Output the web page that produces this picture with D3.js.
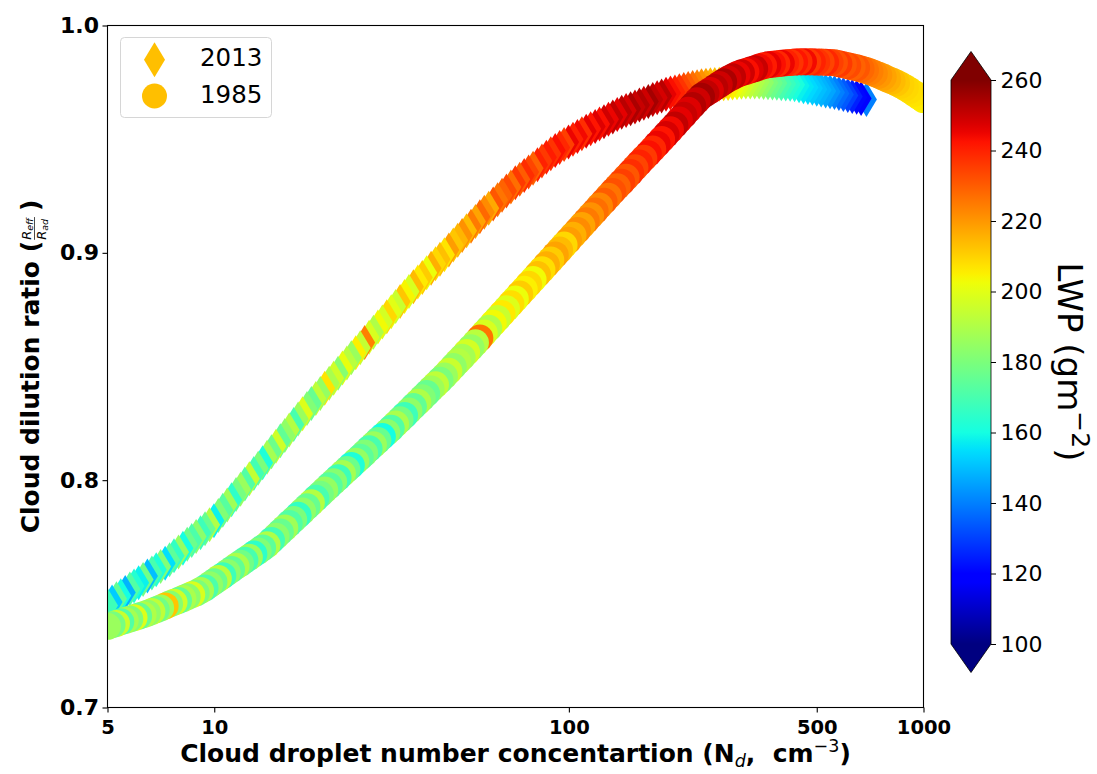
<!DOCTYPE html>
<html>
<head>
<meta charset="utf-8">
<script src="https://cdn.jsdelivr.net/npm/d3@7"></script>
<style>
  body { margin: 0; background: #fff; }
  svg { font-family: "DejaVu Sans", sans-serif; }
</style>
</head>
<body>
<script>
// droplet number concentration (cm-3), dilution ratio and LWP (g m-2)
var nd2013 = [5.00,5.15,5.30,5.45,5.61,5.78,5.94,6.12,6.30,6.48,
  6.67,6.86,7.06,7.27,7.48,7.70,7.93,8.16,8.39,8.64,
  8.89,9.15,9.42,9.70,9.98,10.27,10.57,10.88,11.19,11.52,
  11.86,12.20,12.56,12.93,13.30,13.69,14.09,14.50,14.93,15.36,
  15.81,16.27,16.75,17.24,17.74,18.26,18.79,19.34,19.91,20.49,
  21.09,21.71,22.34,22.99,23.66,24.35,25.06,25.80,26.55,27.33,
  28.12,28.94,29.79,30.66,31.55,32.47,33.42,34.40,35.40,36.44,
  37.50,38.60,39.72,40.88,42.07,43.30,44.57,45.87,47.21,48.59,
  50.00,51.46,52.97,54.52,56.10,57.74,59.43,61.17,62.95,64.79,
  66.68,68.63,70.63,72.69,74.82,77.00,79.25,81.56,83.95,86.40,
  88.92,91.52,94.19,96.94,99.77,102.7,105.7,108.8,111.9,115.2,
  118.6,122.0,125.6,129.3,133.0,136.9,140.9,145.0,149.3,153.6,
  158.1,162.7,167.5,172.4,177.4,182.6,187.9,193.4,199.1,204.9,
  210.9,217.0,223.4,229.9,236.6,243.5,250.6,257.9,265.5,273.2,
  281.2,289.4,297.9,306.6,315.5,324.7,334.2,344.0,354.0,364.3,
  375.0,385.9,397.2,408.8,420.7,433.0,445.7,458.7,472.1,485.9,
  500.0,514.6,529.7,545.2,561.0,577.4,594.3,611.7,629.5,647.9,
  666.8,690.2];
var ratio2013 = [0.7449,0.7464,0.7478,0.7492,0.7506,0.7521,0.7535,0.7549,0.7563,0.7578,
  0.7592,0.7606,0.7620,0.7635,0.7650,0.7667,0.7684,0.7701,0.7718,0.7735,
  0.7752,0.7769,0.7786,0.7804,0.7822,0.7845,0.7868,0.7891,0.7914,0.7937,
  0.7960,0.7983,0.8006,0.8029,0.8052,0.8077,0.8101,0.8125,0.8149,0.8173,
  0.8197,0.8221,0.8245,0.8269,0.8292,0.8315,0.8337,0.8359,0.8381,0.8404,
  0.8426,0.8448,0.8470,0.8493,0.8515,0.8538,0.8560,0.8583,0.8606,0.8629,
  0.8651,0.8674,0.8696,0.8719,0.8741,0.8764,0.8786,0.8808,0.8830,0.8851,
  0.8872,0.8892,0.8912,0.8932,0.8952,0.8972,0.8992,0.9013,0.9034,0.9055,
  0.9076,0.9097,0.9117,0.9138,0.9159,0.9178,0.9196,0.9215,0.9234,0.9253,
  0.9272,0.9290,0.9308,0.9324,0.9340,0.9356,0.9372,0.9388,0.9404,0.9420,
  0.9436,0.9450,0.9463,0.9476,0.9488,0.9500,0.9512,0.9524,0.9535,0.9546,
  0.9556,0.9567,0.9577,0.9588,0.9598,0.9608,0.9618,0.9626,0.9634,0.9642,
  0.9650,0.9658,0.9666,0.9674,0.9682,0.9690,0.9698,0.9703,0.9708,0.9713,
  0.9718,0.9723,0.9727,0.9731,0.9735,0.9737,0.9739,0.9741,0.9742,0.9744,
  0.9745,0.9747,0.9748,0.9750,0.9752,0.9752,0.9752,0.9751,0.9749,0.9748,
  0.9747,0.9746,0.9744,0.9743,0.9742,0.9739,0.9735,0.9731,0.9727,0.9724,
  0.9720,0.9716,0.9712,0.9709,0.9705,0.9701,0.9696,0.9692,0.9688,0.9684,
  0.9679,0.9674];
var lwp2013 = [168,152,175,160,148,172,163,158,178,150,
  170,162,181,155,174,166,185,160,177,171,
  183,168,176,190,158,181,173,187,165,179,
  186,172,194,169,180,162,188,177,196,175,
  184,191,170,186,199,181,176,193,185,207,
  189,196,182,201,192,186,205,194,224,198,
  190,203,197,209,200,195,212,204,198,214,
  206,211,202,216,209,213,207,219,212,215,
  221,214,225,218,228,222,217,231,226,229,
  233,227,236,230,238,234,229,240,236,241,
  237,243,239,235,245,240,244,238,246,242,
  247,243,249,245,251,246,252,248,254,250,
  253,249,255,251,248,252,246,243,240,237,
  233,230,227,224,221,218,215,213,211,209,
  207,205,202,199,196,193,190,187,184,180,
  177,174,170,167,164,161,158,156,154,152,
  150,148,146,143,140,137,134,130,125,121,
  118,140];

var nd1985 = [5.00,5.15,5.30,5.45,5.61,5.78,5.94,6.12,6.30,6.48,
  6.67,6.86,7.06,7.27,7.48,7.70,7.93,8.16,8.39,8.64,
  8.89,9.15,9.42,9.70,9.98,10.27,10.57,10.88,11.19,11.52,
  11.86,12.20,12.56,12.93,13.30,13.69,14.09,14.50,14.93,15.36,
  15.81,16.27,16.75,17.24,17.74,18.26,18.79,19.34,19.91,20.49,
  21.09,21.71,22.34,22.99,23.66,24.35,25.06,25.80,26.55,27.33,
  28.12,28.94,29.79,30.66,31.55,32.47,33.42,34.40,35.40,36.44,
  37.50,38.60,39.72,40.88,42.07,43.30,44.57,45.87,47.21,48.59,
  50.00,51.46,52.97,54.52,56.10,57.74,59.43,61.17,62.95,64.79,
  66.68,68.63,70.63,72.69,74.82,77.00,79.25,81.56,83.95,86.40,
  88.92,91.52,94.19,96.94,99.77,102.7,105.7,108.8,111.9,115.2,
  118.6,122.0,125.6,129.3,133.0,136.9,140.9,145.0,149.3,153.6,
  158.1,162.7,167.5,172.4,177.4,182.6,187.9,193.4,199.1,204.9,
  210.9,217.0,223.4,229.9,236.6,243.5,250.6,257.9,265.5,273.2,
  281.2,289.4,297.9,306.6,315.5,324.7,334.2,344.0,354.0,364.3,
  375.0,385.9,397.2,408.8,420.7,433.0,445.7,458.7,472.1,485.9,
  500.0,514.6,529.7,545.2,561.0,577.4,594.3,611.7,629.5,647.9,
  666.8,686.3,706.3,726.9,748.2,770.0,792.5,815.7,839.5,864.0,
  889.2,915.2,941.9,969.4,1000];
var ratio1985 = [0.7357,0.7364,0.7370,0.7377,0.7383,0.7389,0.7395,0.7402,0.7408,0.7415,
  0.7422,0.7430,0.7438,0.7447,0.7455,0.7463,0.7471,0.7479,0.7487,0.7496,
  0.7504,0.7515,0.7526,0.7540,0.7553,0.7567,0.7580,0.7594,0.7607,0.7621,
  0.7634,0.7648,0.7661,0.7675,0.7688,0.7702,0.7716,0.7735,0.7753,0.7772,
  0.7790,0.7809,0.7827,0.7846,0.7864,0.7883,0.7901,0.7920,0.7938,0.7957,
  0.7975,0.7993,0.8011,0.8029,0.8047,0.8065,0.8083,0.8101,0.8119,0.8138,
  0.8156,0.8174,0.8192,0.8210,0.8228,0.8247,0.8266,0.8285,0.8304,0.8324,
  0.8343,0.8362,0.8381,0.8401,0.8420,0.8439,0.8458,0.8479,0.8500,0.8521,
  0.8541,0.8562,0.8583,0.8604,0.8625,0.8647,0.8668,0.8690,0.8711,0.8733,
  0.8754,0.8776,0.8797,0.8819,0.8840,0.8862,0.8883,0.8905,0.8926,0.8948,
  0.8969,0.8991,0.9012,0.9034,0.9055,0.9077,0.9098,0.9120,0.9141,0.9163,
  0.9184,0.9206,0.9227,0.9249,0.9270,0.9291,0.9311,0.9332,0.9353,0.9374,
  0.9395,0.9416,0.9436,0.9457,0.9478,0.9499,0.9520,0.9541,0.9562,0.9584,
  0.9605,0.9627,0.9648,0.9669,0.9689,0.9702,0.9714,0.9727,0.9740,0.9753,
  0.9765,0.9775,0.9785,0.9792,0.9798,0.9804,0.9810,0.9817,0.9823,0.9827,
  0.9830,0.9832,0.9834,0.9836,0.9837,0.9839,0.9840,0.9840,0.9840,0.9840,
  0.9839,0.9839,0.9838,0.9837,0.9836,0.9832,0.9827,0.9823,0.9818,0.9814,
  0.9809,0.9803,0.9797,0.9789,0.9781,0.9773,0.9764,0.9756,0.9747,0.9737,
  0.9726,0.9714,0.9701,0.9688,0.9674];
var lwp1985 = [186,179,195,172,188,181,199,176,190,184,
  193,178,187,212,182,196,175,189,183,198,
  180,188,171,184,177,192,168,183,175,189,
  178,170,186,165,181,174,190,169,183,176,
  187,172,180,166,184,176,191,170,179,185,
  173,182,168,188,177,162,185,174,181,170,
  186,176,160,183,172,189,179,168,184,175,
  190,181,176,187,193,180,186,195,184,191,
  188,197,185,192,226,198,190,203,195,206,
  199,208,202,211,205,209,203,213,208,216,
  211,218,214,209,219,216,222,218,225,221,
  227,223,230,226,232,229,235,231,238,234,
  240,236,243,239,245,242,248,244,251,246,
  250,247,253,249,255,251,247,252,249,254,
  248,251,245,249,243,247,250,244,241,246,
  243,239,245,240,237,242,238,244,236,240,
  237,234,239,235,232,236,231,233,229,231,
  228,226,224,222,220,218,216,214,212,210,
  209,208,207,206,205];

var xTicks = [5, 10, 100, 500, 1000];
var yTicks = [0.7, 0.8, 0.9, 1.0];
var cbarTicks = [100, 120, 140, 160, 180, 200, 220, 240, 260];
var years = ["2013", "1985"];

// matplotlib jet colormap
function jet(t) {
  t = Math.max(0, Math.min(1, t));
  function seg(pts) {
    for (var i = 1; i < pts.length; i++) {
      if (t <= pts[i][0]) {
        var a = pts[i - 1], b = pts[i];
        return a[1] + (b[1] - a[1]) * (t - a[0]) / (b[0] - a[0]);
      }
    }
    return pts[pts.length - 1][1];
  }
  var r = seg([[0, 0], [0.35, 0], [0.66, 1], [0.89, 1], [1, 0.5]]);
  var g = seg([[0, 0], [0.125, 0], [0.375, 1], [0.64, 1], [0.91, 0], [1, 0]]);
  var b = seg([[0, 0.5], [0.11, 1], [0.34, 1], [0.65, 0], [1, 0]]);
  return d3.rgb(r * 255, g * 255, b * 255).toString();
}

// thin diamond like matplotlib "d"
var thinDiamond = {
  draw: function(ctx, size) {
    var a = Math.sqrt(size / 1.2);
    ctx.moveTo(0, -a);
    ctx.lineTo(0.6 * a, 0);
    ctx.lineTo(0, a);
    ctx.lineTo(-0.6 * a, 0);
    ctx.closePath();
  }
};

var w = 1097, h = 774;
var axLeft = 107.5, axRight = 923.5, axTop = 25.5, axBottom = 707.5;

var svg = d3.select("body").append("svg")
  .attr("width", w)
  .attr("height", h);

var xScale = d3.scaleLog().domain([5, 1000]).range([axLeft, axRight]);
var yScale = d3.scaleLinear().domain([0.7, 1.0]).range([axBottom, axTop]);
var color = d3.scaleSequential(jet).domain([100, 260]).clamp(true);

var defs = svg.append("defs");
defs.append("clipPath").attr("id", "plotClip")
  .append("rect")
  .attr("x", axLeft).attr("y", axTop)
  .attr("width", axRight - axLeft).attr("height", axBottom - axTop);

var diamondSym = d3.symbol().type(thinDiamond).size(1.2 * 17.5 * 17.5);
var circleSym = d3.symbol().type(d3.symbolCircle).size(Math.PI * 13.5 * 13.5);
var legendCircle = d3.symbol().type(d3.symbolCircle).size(Math.PI * 12.5 * 12.5);

function points(nd, ratio, lwp) {
  return nd.map(function(n, i) { return {n: n, r: ratio[i], lwp: lwp[i]}; }).reverse();
}

var plot = svg.append("g").attr("clip-path", "url(#plotClip)");

// 2013 diamonds
plot.append("g").selectAll("path")
  .data(points(nd2013, ratio2013, lwp2013))
  .enter()
  .append("path")
  .attr("d", diamondSym)
  .attr("transform", function(d) { return "translate(" + xScale(d.n) + "," + yScale(d.r) + ")"; })
  .attr("fill", function(d) { return color(d.lwp); });

// 1985 circles
plot.append("g").selectAll("path")
  .data(points(nd1985, ratio1985, lwp1985))
  .enter()
  .append("path")
  .attr("d", circleSym)
  .attr("transform", function(d) { return "translate(" + xScale(d.n) + "," + yScale(d.r) + ")"; })
  .attr("fill", function(d) { return color(d.lwp); });

// frame
svg.append("rect")
  .attr("x", axLeft).attr("y", axTop)
  .attr("width", axRight - axLeft).attr("height", axBottom - axTop)
  .attr("fill", "none")
  .attr("stroke", "#000")
  .attr("stroke-width", 1.1);

// axes
var xAxis = d3.axisBottom(xScale).tickValues(xTicks).tickFormat(d3.format("d")).tickSize(5).tickPadding(7.5);
var yAxis = d3.axisLeft(yScale).tickValues(yTicks).tickFormat(d3.format(".1f")).tickSize(5).tickPadding(3.5);

var gx = svg.append("g").attr("transform", "translate(0," + axBottom + ")").call(xAxis);
var gy = svg.append("g").attr("transform", "translate(" + axLeft + ",0)").call(yAxis);
[gx, gy].forEach(function(g) {
  g.select(".domain").remove();
  g.selectAll("line").attr("stroke", "#000").attr("stroke-width", 1.1);
  g.selectAll("text")
    .attr("fill", "#000")
    .style("font-family", "'DejaVu Sans', sans-serif")
    .style("font-weight", "bold");
});
gx.selectAll("text").style("font-size", "19.5px");
gy.selectAll("text").style("font-size", "22px");

// x label
var xl = svg.append("text")
  .attr("x", (axLeft + axRight) / 2)
  .attr("y", 762)
  .attr("text-anchor", "middle")
  .style("font-size", "25px")
  .style("font-weight", "bold");
xl.append("tspan").text("Cloud droplet number concentartion (N");
xl.append("tspan").attr("dy", 5).style("font-size", "17.5px").style("font-weight", "normal").style("font-style", "italic").text("d");
xl.append("tspan").attr("dy", -5).text(",\u00a0\u00a0cm");
xl.append("tspan").attr("dy", -10).style("font-size", "17.5px").style("font-weight", "normal").text("\u22123");
xl.append("tspan").attr("dy", 10).text(")");

// y label with fraction
var yl = svg.append("g");
var ylMain = yl.append("text")
  .style("font-size", "25px")
  .style("font-weight", "bold")
  .text("Cloud dilution ratio (");
var len1 = ylMain.node().getComputedTextLength();
var fracX = len1 + 1;
var numer = yl.append("text").attr("x", fracX).attr("y", -7.5)
  .style("font-size", "13px").style("font-style", "italic");
numer.append("tspan").text("R");
numer.append("tspan").attr("dy", 2).style("font-size", "9.5px").text("eff");
var denom = yl.append("text").attr("x", fracX).attr("y", 7.5)
  .style("font-size", "13px").style("font-style", "italic");
denom.append("tspan").text("R");
denom.append("tspan").attr("dy", 2).style("font-size", "9.5px").text("ad");
var fracW = Math.max(numer.node().getComputedTextLength(), denom.node().getComputedTextLength()) + 1;
yl.append("line")
  .attr("x1", fracX).attr("x2", fracX + fracW)
  .attr("y1", -4).attr("y2", -4)
  .attr("stroke", "#000").attr("stroke-width", 0.7);
var ylEnd = yl.append("text").attr("x", fracX + fracW + 6)
  .style("font-size", "25px").style("font-weight", "bold").text(")");
var total = fracX + fracW + 6 + ylEnd.node().getComputedTextLength();
yl.attr("transform", "translate(38.5," + ((axTop + axBottom) / 2 + total / 2) + ") rotate(-90)");

// legend
var legend = svg.append("g");
legend.append("rect")
  .attr("x", 120.5).attr("y", 37.5)
  .attr("width", 151).attr("height", 80)
  .attr("rx", 4)
  .attr("fill", "#fff").attr("fill-opacity", 0.8)
  .attr("stroke", "#d6d6d6").attr("stroke-width", 1);
var legendSyms = [diamondSym, legendCircle];
var legendRows = legend.selectAll(".legend")
  .data(years)
  .enter()
  .append("g")
  .attr("class", "legend")
  .attr("transform", function(d, i) { return "translate(154.5," + (59.7 + i * 36.3) + ")"; });
legendRows.append("path")
  .attr("d", function(d, i) { return legendSyms[i](); })
  .attr("fill", "#ffbf00");
legendRows.append("text")
  .attr("x", 45.5)
  .attr("y", 6.6)
  .style("font-size", "24.5px")
  .text(function(d) { return d; });

// colorbar
var cbX = 951, cbW = 40;
var cbScale = d3.scaleLinear().domain([100, 260]).range([644, 80]);
var grad = defs.append("linearGradient")
  .attr("id", "jetGrad")
  .attr("x1", 0).attr("y1", 1).attr("x2", 0).attr("y2", 0);
grad.selectAll("stop")
  .data(d3.range(0, 1.0001, 1 / 64))
  .enter()
  .append("stop")
  .attr("offset", function(d) { return d; })
  .attr("stop-color", function(d) { return jet(d); });

var ext = 28.5;
svg.append("rect")
  .attr("x", cbX).attr("y", cbScale(260))
  .attr("width", cbW).attr("height", cbScale(100) - cbScale(260))
  .attr("fill", "url(#jetGrad)");
svg.append("path")
  .attr("d", "M" + cbX + "," + cbScale(260) + "L" + (cbX + cbW / 2) + "," + (cbScale(260) - ext) + "L" + (cbX + cbW) + "," + cbScale(260) + "Z")
  .attr("fill", jet(1));
svg.append("path")
  .attr("d", "M" + cbX + "," + cbScale(100) + "L" + (cbX + cbW / 2) + "," + (cbScale(100) + ext) + "L" + (cbX + cbW) + "," + cbScale(100) + "Z")
  .attr("fill", jet(0));
svg.append("path")
  .attr("d", "M" + cbX + "," + cbScale(260) + "L" + (cbX + cbW / 2) + "," + (cbScale(260) - ext) + "L" + (cbX + cbW) + "," + cbScale(260) +
    "L" + (cbX + cbW) + "," + cbScale(100) + "L" + (cbX + cbW / 2) + "," + (cbScale(100) + ext) + "L" + cbX + "," + cbScale(100) + "Z")
  .attr("fill", "none")
  .attr("stroke", "#000")
  .attr("stroke-width", 0.8);

var cbAxis = d3.axisRight(cbScale).tickValues(cbarTicks).tickSize(5).tickPadding(4.5);
var gc = svg.append("g").attr("transform", "translate(" + (cbX + cbW) + ",0)").call(cbAxis);
gc.select(".domain").remove();
gc.selectAll("line").attr("stroke", "#000").attr("stroke-width", 1);
gc.selectAll("text")
  .attr("fill", "#000")
  .style("font-family", "'DejaVu Sans', sans-serif")
  .style("font-size", "22px");

// colorbar label
var cl = svg.append("text")
  .attr("transform", "translate(1058," + ((cbScale(100) + cbScale(260)) / 2) + ") rotate(90)")
  .attr("text-anchor", "middle")
  .style("font-size", "34px");
cl.append("tspan").text("LWP (gm");
cl.append("tspan").attr("dy", -14).style("font-size", "25px").text("\u22122");
cl.append("tspan").attr("dy", 14).text(")");
</script>
</body>
</html>
